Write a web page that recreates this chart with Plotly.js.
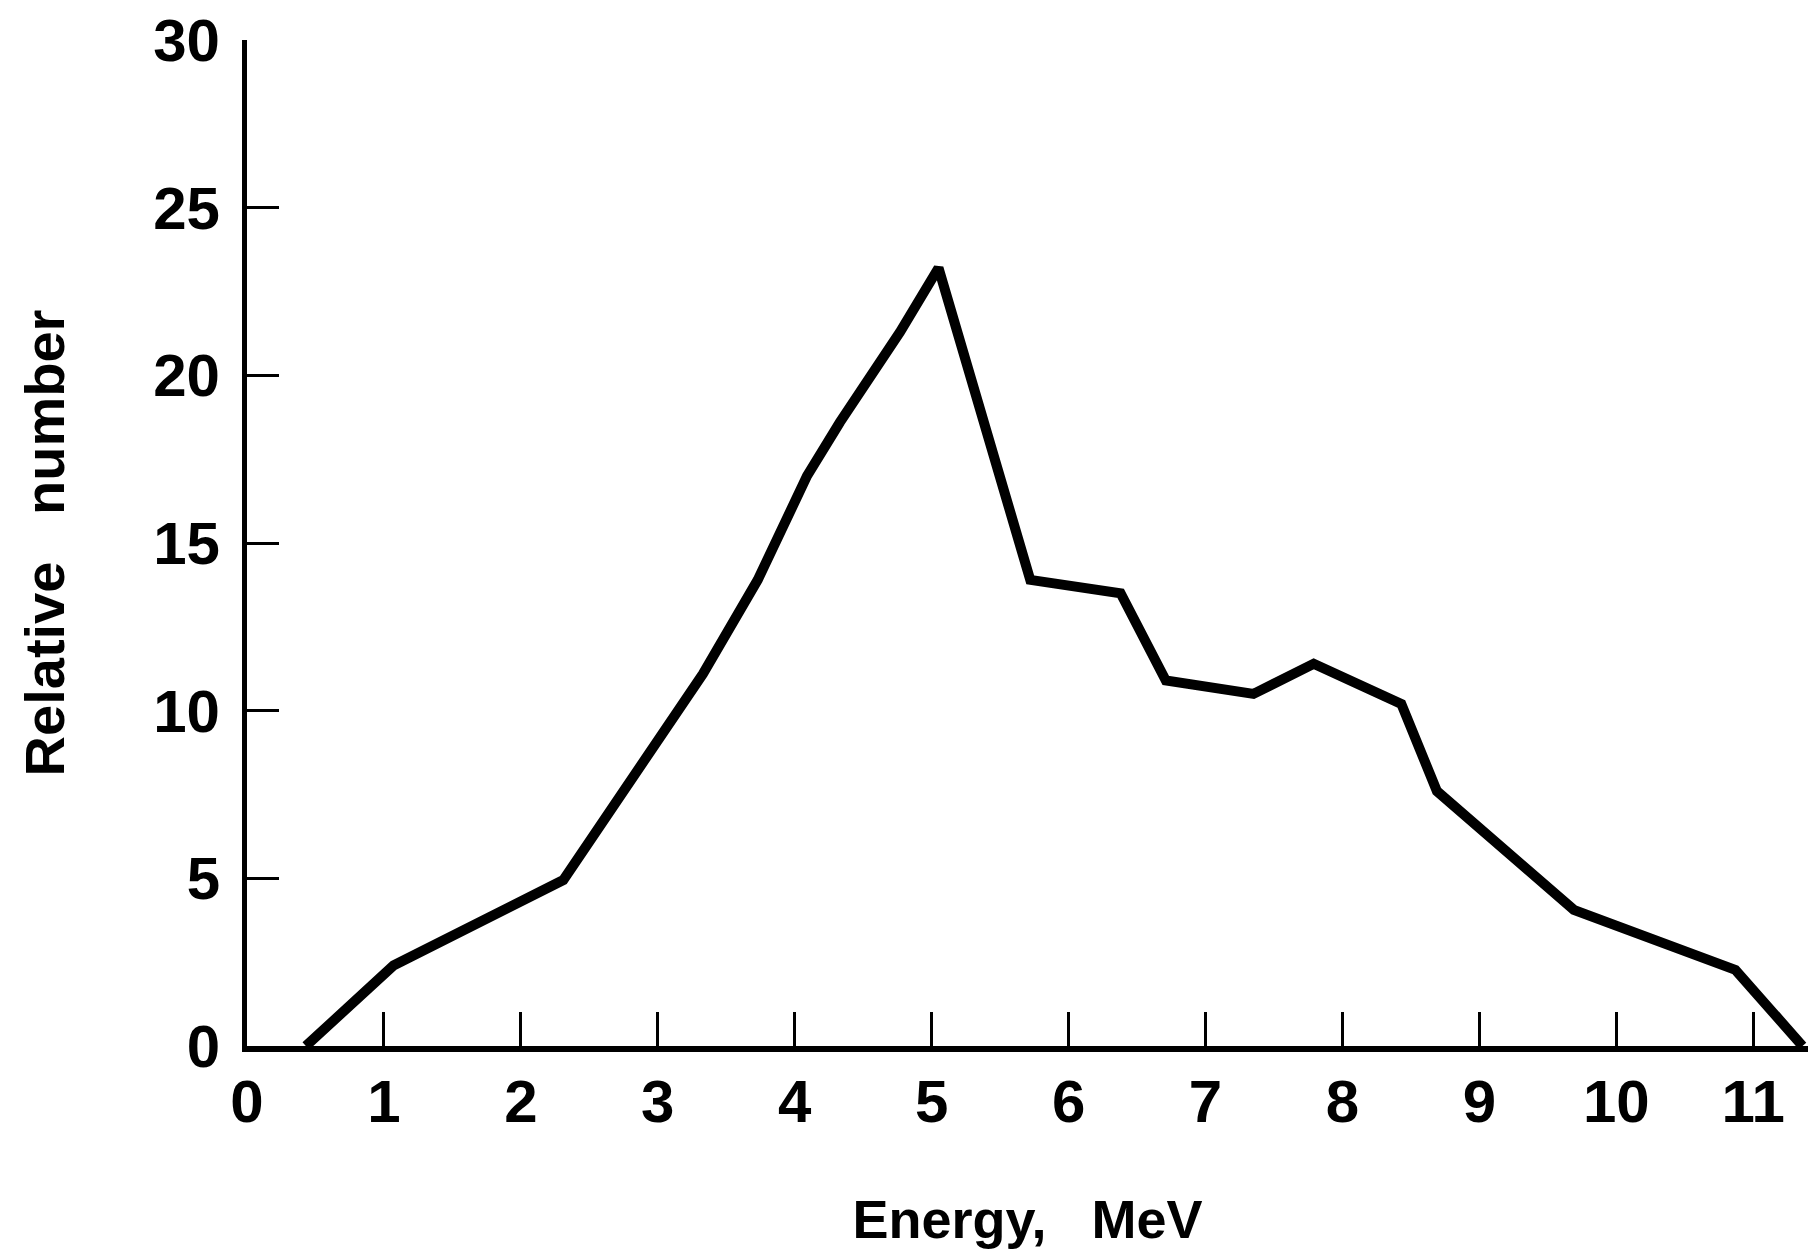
<!DOCTYPE html>
<html>
<head>
<meta charset="utf-8">
<script src="https://cdn.plot.ly/plotly-3.0.1.min.js"></script>
<style>html,body{margin:0;padding:0;background:#fff;}#chart{width:1812px;height:1250px;}</style>
</head>
<body>
<div id="chart"></div>
<script>
// Energy spectrum
const energy = [0.43, 1.07, 2.31, 3.33, 3.73, 4.09, 4.33, 4.77, 5.05, 5.72, 6.38, 6.71, 7.35, 7.79, 8.43, 8.69, 9.69, 10.87, 11.36];
const relNumber = [0, 2.4, 4.95, 11.1, 13.9, 17.0, 18.6, 21.3, 23.2, 13.9, 13.5, 10.9, 10.5, 11.4, 10.2, 7.6, 4.06, 2.27, 0];
const xTicks = [0, 1, 2, 3, 4, 5, 6, 7, 8, 9, 10, 11];
const yTicks = [0, 5, 10, 15, 20, 25, 30];
const xTitle = "<b>Energy,&nbsp;&nbsp;&nbsp;MeV</b>";
const yTitle = "<b>Relative&nbsp;&nbsp;&nbsp;number</b>";

const fam = "Liberation Sans Narrow, Liberation Sans, Arial, sans-serif";
const tickFont = {family: fam, size: 60, color: "#000", weight: "bold"};

const trace = {
  x: energy, y: relNumber, type: "scatter", mode: "lines",
  line: {color: "#000", width: 10, shape: "linear"},
  hoverinfo: "skip"
};

const layout = {
  width: 1812, height: 1250,
  paper_bgcolor: "#fff", plot_bgcolor: "#fff",
  margin: {l: 247, r: 4, t: 40, b: 204},
  showlegend: false,
  xaxis: {
    range: [0, 11.40], tickvals: xTicks, ticktext: xTicks.map(String),
    showgrid: false, zeroline: false, showline: true, linecolor: "#000", linewidth: 6,
    ticks: "inside", ticklen: 34, tickwidth: 3, tickcolor: "#000",
    tickfont: tickFont, ticklabelstandoff: -2,
    title: {text: xTitle, font: {family: fam, size: 54, color: "#000"}, standoff: 68},
    automargin: false
  },
  yaxis: {
    range: [0, 30], tickvals: yTicks, ticktext: yTicks.map(String),
    showgrid: false, zeroline: false, showline: true, linecolor: "#000", linewidth: 5,
    ticks: "inside", ticklen: 32, tickwidth: 3, tickcolor: "#000",
    tickfont: tickFont, ticklabelstandoff: 10,
    title: {text: yTitle, font: {family: fam, size: 56, color: "#000"}, standoff: 72},
    automargin: false
  }
};

Plotly.newPlot("chart", [trace], layout, {staticPlot: true, displayModeBar: false});
</script>
</body>
</html>
